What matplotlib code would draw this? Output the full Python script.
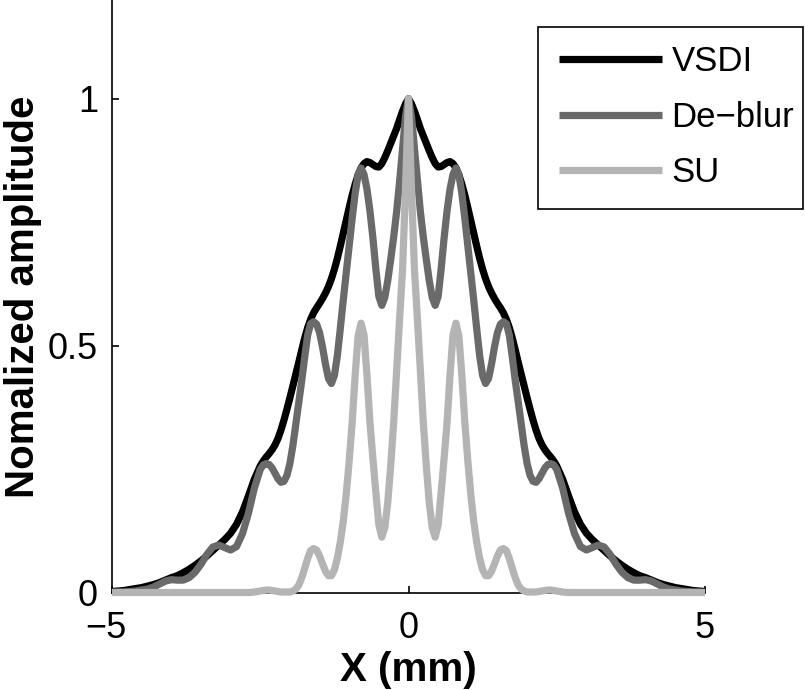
import matplotlib
matplotlib.use('Agg')
import matplotlib.pyplot as plt
from matplotlib.patches import Rectangle
from matplotlib.transforms import ScaledTranslation

plt.rcParams['font.family'] = ['Liberation Sans', 'DejaVu Sans']

# sample positions (mm)
x_mm = [-5.0, -4.9, -4.8, -4.7, -4.6, -4.5, -4.4, -4.3, -4.2, -4.1, -4.0, -3.9, -3.8,
        -3.7, -3.6, -3.5, -3.4, -3.3, -3.2, -3.1, -3.0, -2.9, -2.8, -2.7, -2.6,
        -2.5, -2.45, -2.4, -2.35, -2.3, -2.25, -2.2, -2.15, -2.1, -2.05, -2.0, -1.95,
        -1.9, -1.85, -1.8, -1.75, -1.7, -1.65, -1.6, -1.55, -1.5, -1.45, -1.4, -1.35,
        -1.3, -1.25, -1.2, -1.15, -1.1, -1.05, -1.0, -0.95, -0.9, -0.85, -0.8, -0.75,
        -0.7, -0.65, -0.6, -0.55, -0.5, -0.45, -0.4, -0.35, -0.3, -0.25, -0.2, -0.15,
        -0.1, -0.05,
        0.0, 0.05, 0.1, 0.15, 0.2, 0.25, 0.3, 0.35, 0.4, 0.45, 0.5, 0.55, 0.6, 0.65,
        0.7, 0.75, 0.8, 0.85, 0.9, 0.95, 1.0, 1.05, 1.1, 1.15, 1.2, 1.25, 1.3, 1.35,
        1.4, 1.45, 1.5, 1.55, 1.6, 1.65, 1.7, 1.75, 1.8, 1.85, 1.9, 1.95, 2.0, 2.05,
        2.1, 2.15, 2.2, 2.25, 2.3, 2.35, 2.4, 2.45, 2.5,
        2.6, 2.7, 2.8, 2.9, 3.0, 3.1, 3.2, 3.3, 3.4, 3.5, 3.6, 3.7, 3.8, 3.9, 4.0,
        4.1, 4.2, 4.3, 4.4, 4.5, 4.6, 4.7, 4.8, 4.9, 5.0]

vsdi = [0.003, 0.004, 0.005, 0.007, 0.009, 0.011, 0.014, 0.017, 0.021, 0.026, 0.031, 0.035,
        0.041, 0.048, 0.056, 0.065, 0.075, 0.086, 0.097, 0.108, 0.121, 0.139, 0.164, 0.196,
        0.230,
        0.257, 0.267, 0.275, 0.282, 0.290, 0.300, 0.313, 0.330, 0.350, 0.372, 0.395, 0.419,
        0.443, 0.467, 0.492, 0.516, 0.537, 0.554, 0.567, 0.577, 0.586, 0.596, 0.607, 0.620,
        0.636, 0.655, 0.677, 0.702, 0.728, 0.754, 0.780, 0.805, 0.827, 0.846, 0.860, 0.869,
        0.873, 0.871, 0.867, 0.863, 0.862, 0.869, 0.881, 0.895, 0.910, 0.925, 0.940, 0.958,
        0.975, 0.990,
        1.000, 0.990, 0.975, 0.958, 0.940, 0.925, 0.910, 0.895, 0.881, 0.869, 0.862, 0.863,
        0.867, 0.871, 0.873, 0.869, 0.860, 0.846, 0.827, 0.805, 0.780, 0.754, 0.728, 0.702,
        0.677, 0.655, 0.636, 0.620, 0.607, 0.596, 0.586, 0.577, 0.567, 0.554, 0.537, 0.516,
        0.492, 0.467, 0.443, 0.419, 0.395, 0.372, 0.350, 0.330, 0.313, 0.300, 0.290, 0.282,
        0.275, 0.267, 0.257,
        0.230, 0.196, 0.164, 0.139, 0.121, 0.108, 0.097, 0.086, 0.075, 0.065, 0.056, 0.048,
        0.041, 0.035, 0.031, 0.026, 0.021, 0.017, 0.014, 0.011, 0.009, 0.007, 0.005, 0.004,
        0.003]

deblur = [0.001, 0.002, 0.002, 0.003, 0.004, 0.006, 0.008, 0.012, 0.018, 0.024, 0.027, 0.026,
          0.026, 0.031, 0.042, 0.058, 0.078, 0.093, 0.097, 0.092, 0.087, 0.094, 0.120, 0.161,
          0.212,
          0.250, 0.259, 0.262, 0.260, 0.253, 0.242, 0.231, 0.224, 0.226, 0.238, 0.262, 0.298,
          0.342, 0.387, 0.430, 0.478, 0.522, 0.545, 0.549, 0.544, 0.527, 0.498, 0.463, 0.434,
          0.424, 0.440, 0.480, 0.535, 0.593, 0.647, 0.703, 0.758, 0.808, 0.847, 0.860, 0.847,
          0.817, 0.773, 0.718, 0.655, 0.600, 0.582, 0.598, 0.632, 0.675, 0.720, 0.772, 0.833,
          0.900, 0.965,
          1.000, 0.965, 0.900, 0.833, 0.772, 0.720, 0.675, 0.632, 0.598, 0.582, 0.600, 0.655,
          0.718, 0.773, 0.817, 0.847, 0.860, 0.847, 0.808, 0.758, 0.703, 0.647, 0.593, 0.535,
          0.480, 0.440, 0.424, 0.434, 0.463, 0.498, 0.527, 0.544, 0.549, 0.545, 0.522, 0.478,
          0.430, 0.387, 0.342, 0.298, 0.262, 0.238, 0.226, 0.224, 0.231, 0.242, 0.253, 0.260,
          0.262, 0.259, 0.250,
          0.212, 0.161, 0.120, 0.094, 0.087, 0.092, 0.097, 0.093, 0.078, 0.058, 0.042, 0.031,
          0.026, 0.026, 0.027, 0.024, 0.018, 0.012, 0.008, 0.006, 0.004, 0.003, 0.002, 0.002,
          0.001]

su = [0.001, 0.001, 0.001, 0.001, 0.001, 0.001, 0.001, 0.001, 0.001, 0.001, 0.001, 0.001,
      0.001, 0.001, 0.001, 0.001, 0.001, 0.001, 0.001, 0.001, 0.001, 0.001, 0.001, 0.001,
      0.002,
      0.004, 0.005, 0.006, 0.006, 0.005, 0.004, 0.003, 0.002, 0.002, 0.002, 0.002, 0.004,
      0.008, 0.016, 0.031, 0.050, 0.070, 0.086, 0.090, 0.087, 0.075, 0.059, 0.044, 0.035,
      0.035, 0.047, 0.070, 0.103, 0.145, 0.200, 0.268, 0.345, 0.440, 0.520, 0.546, 0.522,
      0.440, 0.345, 0.272, 0.203, 0.138, 0.113, 0.132, 0.183, 0.258, 0.345, 0.450, 0.555,
      0.655, 0.820,
      1.000, 0.820, 0.655, 0.555, 0.450, 0.345, 0.258, 0.183, 0.132, 0.113, 0.138, 0.203,
      0.272, 0.345, 0.440, 0.522, 0.546, 0.520, 0.440, 0.345, 0.268, 0.200, 0.145, 0.103,
      0.070, 0.047, 0.035, 0.035, 0.044, 0.059, 0.075, 0.087, 0.090, 0.086, 0.070, 0.050,
      0.031, 0.016, 0.008, 0.004, 0.002, 0.002, 0.002, 0.002, 0.003, 0.004, 0.005, 0.006,
      0.006, 0.005, 0.004,
      0.002, 0.001, 0.001, 0.001, 0.001, 0.001, 0.001, 0.001, 0.001, 0.001, 0.001, 0.001,
      0.001, 0.001, 0.001, 0.001, 0.001, 0.001, 0.001, 0.001, 0.001, 0.001, 0.001, 0.001,
      0.001]

series_names = ['VSDI', 'De\u2212blur', 'SU']
series_colors = ['#000000', '#6a6a6a', '#b4b4b4']
x_ticks = [-5, 0, 5]
y_ticks = [0, 0.5, 1]
y_ticklabels = ['0', '0.5', '1']

fig = plt.figure(figsize=(8.05, 6.9), dpi=100)
ax = fig.add_axes([112 / 805, 97 / 690, 593 / 805, 593 / 690])

for ys, name, col in zip([vsdi, deblur, su], series_names, series_colors):
    ax.plot(x_mm, ys, color=col, lw=5.2, label=name, clip_on=False, zorder=3,
            solid_joinstyle='round', solid_capstyle='butt')

ax.set_xlim(-5, 5)
ax.set_ylim(0, 1.2)
ax.set_xticks(x_ticks)
ax.set_yticks(y_ticks)
ax.set_yticklabels(y_ticklabels)
ax.spines['top'].set_visible(False)
ax.spines['right'].set_visible(False)
for s in ['left', 'bottom']:
    ax.spines[s].set_linewidth(1.2)
ax.tick_params(direction='in', length=5, width=1.2, labelsize=26)
ax.tick_params(axis='x', pad=13)
ax.tick_params(axis='y', pad=10)

# the -5 label sits with its digit under the tick, like the original
lbl = ax.get_xticklabels()[0]
lbl.set_transform(lbl.get_transform() + ScaledTranslation(-0.06, 0, fig.dpi_scale_trans))

ax.set_xlabel('X (mm)', fontsize=29, fontweight='bold')
ax.set_ylabel('Nomalized amplitude', fontsize=29, fontweight='bold')
ax.xaxis.set_label_coords(0.5, -0.098)
ax.yaxis.set_label_coords(-0.118, 0.5)

# legend entries without frame, box drawn separately (uneven padding as in original)
leg = ax.legend(loc='upper left', bbox_to_anchor=(559 / 805, 1 - 45 / 690),
                bbox_transform=fig.transFigure, borderaxespad=0, borderpad=0,
                fontsize=25, handlelength=2.97, handletextpad=0.27,
                labelspacing=0.655, frameon=False)
fig.add_artist(Rectangle((538 / 805, 1 - 209 / 690), 265 / 805, 182 / 690,
                         transform=fig.transFigure, fill=False,
                         edgecolor='black', lw=1.2))

fig.savefig('out.png', dpi=100)
